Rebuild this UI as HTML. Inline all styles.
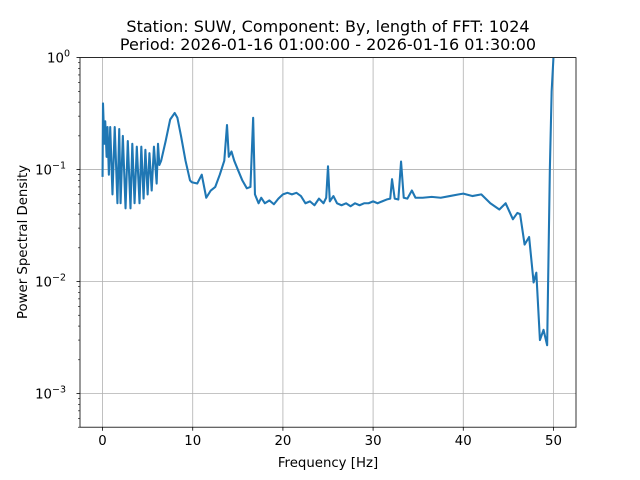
<!DOCTYPE html>
<html><head><meta charset="utf-8"><style>
body{margin:0;background:#fff}
svg{display:block;font-family:"DejaVu Sans","Liberation Sans",sans-serif}
</style></head><body>
<svg id="chart" width="640" height="480" viewBox="0 0 640 480">
<defs><clipPath id="clip"><rect x="80" y="57.6" width="496" height="369.6"/></clipPath></defs>
<rect width="640" height="480" fill="#fff"/>
<g id="grid"></g>
<g id="line" clip-path="url(#clip)"></g>
<rect x="80" y="57.6" width="496" height="369.6" fill="none" stroke="#000" stroke-width="0.8"/>
<g id="ticks"></g>
<text x="328" y="32" text-anchor="middle" font-size="16">Station: SUW, Component: By, length of FFT: 1024</text>
<text x="328" y="50" text-anchor="middle" font-size="16">Period: 2026-01-16 01:00:00 - 2026-01-16 01:30:00</text>
<text x="328" y="467" text-anchor="middle" font-size="13.3">Frequency [Hz]</text>
<text x="27" y="242" text-anchor="middle" font-size="13.3" transform="rotate(-90 27 242)">Power Spectral Density</text>
</svg>
<script>
const freqs=[0,0.05,0.2,0.3,0.45,0.55,0.7,0.85,1.1,1.35,1.65,1.85,2.0,2.25,2.55,2.8,3.1,3.3,3.55,3.8,4.1,4.3,4.55,4.75,5.0,5.2,5.45,5.7,6.0,6.15,6.3,6.5,7.0,7.5,8.0,8.3,8.7,9.2,9.7,9.9,10.5,11.0,11.5,12.0,12.5,13.0,13.5,13.8,14.0,14.3,14.6,15.0,15.5,16.0,16.4,16.7,16.9,17.3,17.6,18.0,18.5,19.0,19.5,20.0,20.5,21.0,21.5,22.0,22.5,23.0,23.5,24.0,24.5,24.8,25.0,25.2,25.6,26.0,26.5,27.0,27.5,28.0,28.5,29.0,29.5,30.0,30.5,31.0,31.5,31.9,32.1,32.4,32.8,33.1,33.4,33.8,34.3,34.7,35.5,36.5,37.5,38.5,39.5,40.0,41.0,42.0,43.0,44.0,44.7,45.5,46.0,46.3,46.8,47.3,47.8,48.1,48.5,48.9,49.3,49.6,49.8,50.0];
const psd=[0.086,0.39,0.17,0.27,0.13,0.24,0.09,0.24,0.06,0.24,0.05,0.23,0.05,0.2,0.045,0.18,0.045,0.17,0.05,0.16,0.05,0.16,0.055,0.15,0.06,0.14,0.065,0.16,0.075,0.17,0.11,0.12,0.18,0.28,0.32,0.29,0.2,0.12,0.08,0.077,0.075,0.09,0.056,0.065,0.07,0.09,0.12,0.25,0.13,0.145,0.12,0.1,0.08,0.068,0.07,0.29,0.06,0.05,0.056,0.05,0.053,0.049,0.055,0.06,0.062,0.06,0.062,0.058,0.05,0.052,0.048,0.055,0.05,0.056,0.107,0.052,0.058,0.05,0.048,0.05,0.047,0.05,0.048,0.05,0.05,0.052,0.05,0.052,0.054,0.055,0.082,0.055,0.054,0.118,0.056,0.055,0.065,0.056,0.056,0.057,0.056,0.058,0.06,0.061,0.058,0.06,0.05,0.044,0.05,0.036,0.041,0.04,0.0214,0.025,0.0098,0.012,0.0030,0.0037,0.0027,0.1,0.5,1.0];
const xTicks=[0,10,20,30,40,50];
const yTickExps=[-3,-2,-1,0];
const xMin=-2.5,xMax=52.5,yMinLog=Math.log10(5e-4),yMaxLog=0;
const L=80,R=576,T=57.6,B=427.2;
function sx(f){return L+(f-xMin)/(xMax-xMin)*(R-L);}
function sy(v){return B-(Math.log10(v)-yMinLog)/(yMaxLog-yMinLog)*(B-T);}
const NS="http://www.w3.org/2000/svg";
const grid=document.getElementById('grid'),ticks=document.getElementById('ticks');
function mk(tag,attrs,parent){const e=document.createElementNS(NS,tag);for(const k in attrs)e.setAttribute(k,attrs[k]);parent.appendChild(e);return e;}
xTicks.forEach(t=>{const x=sx(t);
const g=mk('line',{x1:x,x2:x,y1:T,y2:B,stroke:'#b0b0b0','stroke-width':0.8},grid);


mk('line',{x1:x,x2:x,y1:B,y2:B+3.5,stroke:'#000','stroke-width':0.8},ticks);
const tx=mk('text',{x:x,y:B+18,'text-anchor':'middle','font-size':13.3},ticks);tx.textContent=String(t);


});
yTickExps.forEach(e=>{const y=sy(Math.pow(10,e));
const g=mk('line',{x1:L,x2:R,y1:y,y2:y,stroke:'#b0b0b0','stroke-width':0.8},grid);


mk('line',{x1:L-3.5,x2:L,y1:y,y2:y,stroke:'#000','stroke-width':0.8},ticks);
const tx=mk('text',{x:L-14,y:y+5,'text-anchor':'end','font-size':13.3},ticks);


tx.textContent='10';
const sup=mk('tspan',{dy:-6,'font-size':9.5},tx);sup.textContent=e<0?'\u2212'+(-e):String(e);
if(e===0)tx.setAttribute('x',L-10);
});
for(let e=-4;e<0;e++)for(let m=2;m<10;m++){const v=m*Math.pow(10,e);if(v<5e-4||v>1)continue;const y=sy(v);
mk('line',{x1:L-2,x2:L,y1:y,y2:y,stroke:'#000','stroke-width':0.6},ticks);}
const d=freqs.map((f,i)=>(i?'L':'M')+sx(f).toFixed(2)+','+sy(psd[i]).toFixed(2)).join(' ');
const p=mk('path',{d:d,fill:'none',stroke:'#1f77b4','stroke-width':2.08,'stroke-linejoin':'round'},document.getElementById('line'));


</script>
</body></html>
